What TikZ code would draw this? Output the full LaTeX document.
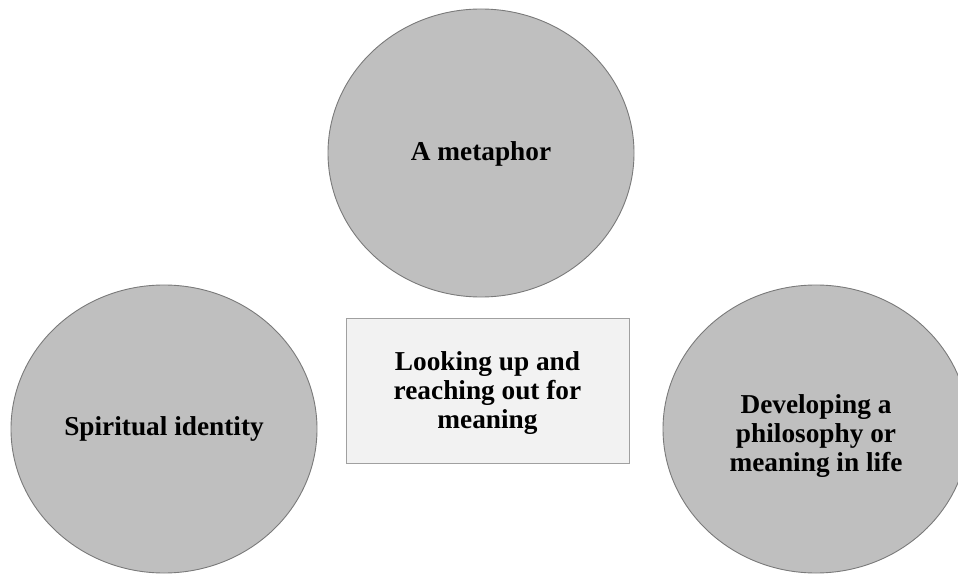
\documentclass[tikz,border=0pt]{standalone}
\usepackage{fontspec}
\setmainfont{Liberation Serif}
\usetikzlibrary{shapes.geometric}
\definecolor{bubblefill}{HTML}{BFBFBF}
\definecolor{bubbleline}{HTML}{7A7A7A}
\definecolor{corefill}{HTML}{F2F2F2}
\definecolor{coreline}{HTML}{A0A0A0}
\begin{document}
\begin{tikzpicture}[x=1pt,y=-1pt,
  labeltext/.style={font=\fontsize{27.3}{28.6}\selectfont\bfseries, align=center, text=black, inner sep=0pt},
  bubble/.style={ellipse, draw=bubbleline, fill=bubblefill, line width=0.9pt,
    minimum width=306pt, minimum height=288pt, inner sep=0pt},
  corebox/.style={rectangle, draw=coreline, fill=corefill, line width=0.9pt,
    minimum width=283pt, minimum height=145pt, inner sep=0pt}]
  \useasboundingbox (0,0) rectangle (958,577);
  % outer ellipses
  \node[bubble] (top) at (481,153) {};
  \node[bubble] (left) at (164,429) {};
  \node[bubble] (right) at (816,429) {};
  % central box
  \node[corebox] (core) at (487.5,390.5) {};
  % labels
  \node[labeltext] (toptext) at (481,154) {A metaphor};
  \node[labeltext] (lefttext) at (164,429) {Spiritual identity};
  \node[labeltext] (righttext) at (816,436) {Developing a\\philosophy or\\meaning in life};
  \node[labeltext] (coretext) at (487.5,393) {Looking up and\\reaching out for\\meaning};
\end{tikzpicture}
\end{document}
